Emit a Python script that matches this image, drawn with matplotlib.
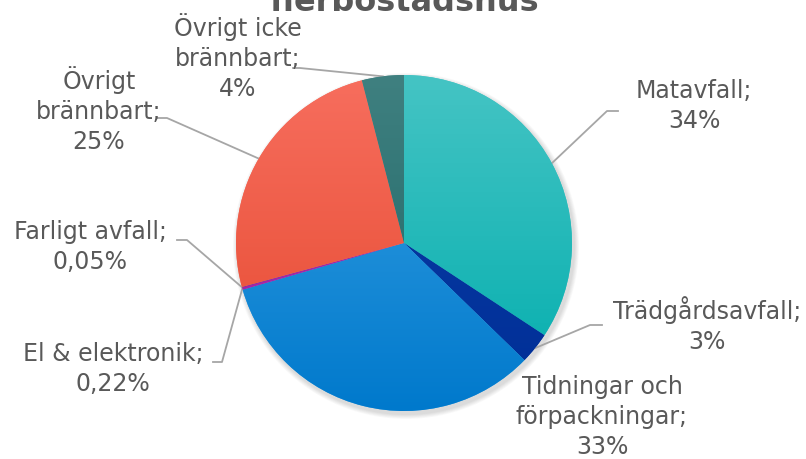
import matplotlib.pyplot as plt
import numpy as np
from matplotlib.colors import LinearSegmentedColormap

categories = ["Matavfall", "Trädgårdsavfall", "Tidningar och\nförpackningar",
              "El & elektronik", "Farligt avfall", "Övrigt\nbrännbart",
              "Övrigt icke\nbrännbart"]
percent = [34, 3, 33, 0.22, 0.05, 25, 4]
pct_labels = ["34%", "3%", "33%", "0,22%", "0,05%", "25%", "4%"]

# gradient top/bottom colours per slice
top_cols = ["#45C4C4", "#0A3EA8", "#3AA2E4", "#B030B0", "#7030A0", "#F76E5E", "#3F8080"]
bot_cols = ["#00ADAD", "#002E96", "#0079CC", "#A020A0", "#6020A0", "#E5492F", "#1D6565"]

fig = plt.figure(figsize=(8.06, 4.59), dpi=100)
ax = fig.add_axes([0, 0, 1, 1])

cx, cy, r = 404, 216, 168

# soft shadow
for k in range(6):
    c = plt.Circle((cx + 2, cy - 3), r + 1 + k * 0.8, color="black", alpha=0.025, lw=0)
    ax.add_patch(c)

wedges, _ = ax.pie(percent, center=(cx, cy), radius=r, startangle=90,
                   counterclock=False, colors=top_cols,
                   wedgeprops=dict(linewidth=0), frame=True)

for w, c1, c2 in zip(wedges, top_cols, bot_cols):
    cmap = LinearSegmentedColormap.from_list("g", [c2, c1])
    grad = np.linspace(0, 1, 256).reshape(-1, 1)
    im = ax.imshow(grad, cmap=cmap, extent=(cx - r, cx + r, cy - r, cy + r),
                   origin="lower", aspect="auto", zorder=2)
    im.set_clip_path(w)

ax.set_xlim(0, 806)
ax.set_ylim(0, 459)
ax.set_aspect("equal")
ax.axis("off")

# label centres (pixels from top-left) and leader line bends
txt_col = "#595959"
line_col = "#A6A6A6"
label_pos = [(694, 106), (707, 325), (602, 417), (113, 369), (90, 247), (99, 110), (238, 57)]
leaders = [
    [(607, 111), (618, 111)],
    [(590, 325), (602, 325)],
    None,
    [(222, 362), (213, 362)],
    [(187, 240), (177, 240)],
    [(167, 118), (158, 118)],
    [(300, 68), (293, 68)],
]

for i, (cat, pl) in enumerate(zip(categories, pct_labels)):
    x, y = label_pos[i]
    ax.text(x, 459 - y, cat + ";\n" + pl, ha="center", va="center",
            fontsize=17, color=txt_col, linespacing=1.3)
    if leaders[i] is not None:
        a = np.deg2rad((wedges[i].theta1 + wedges[i].theta2) / 2)
        ex, ey = cx + r * np.cos(a), cy + r * np.sin(a)
        xs = [ex] + [p[0] for p in leaders[i]]
        ys = [ey] + [459 - p[1] for p in leaders[i]]
        ax.plot(xs, ys, color=line_col, lw=1.3, zorder=1)

# title, only its lower part shows in the original
ax.text(404, 459 - 11, "flerbostadshus", ha="center", va="baseline",
        fontsize=23, fontweight="bold", color="#595959")

fig.savefig("out.png", dpi=100)
